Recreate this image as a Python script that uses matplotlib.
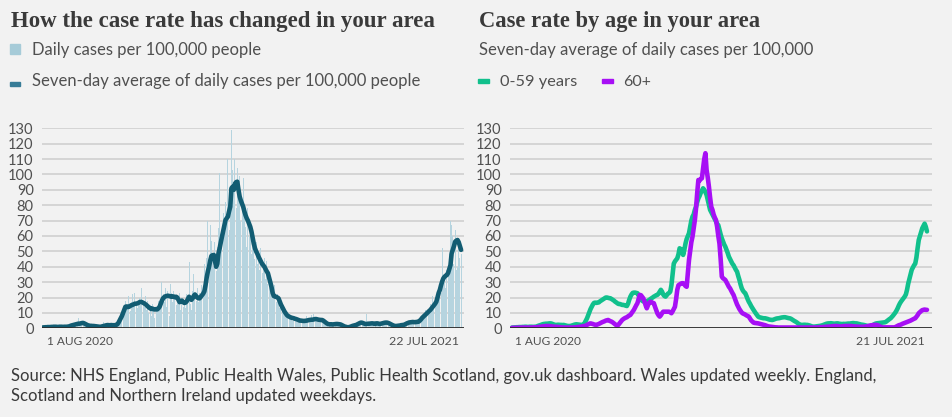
import matplotlib
matplotlib.use("Agg")
import matplotlib.pyplot as plt
import numpy as np

# ---------------- data ----------------
left_start_label = "1 AUG 2020"
left_end_label = "22 JUL 2021"
right_start_label = "1 AUG 2020"
right_end_label = "21 JUL 2021"
y_ticks = [0, 10, 20, 30, 40, 50, 60, 70, 80, 90, 100, 110, 120, 130]

# daily cases per 100,000 (1 Aug 2020 .. 22 Jul 2021)
daily_cases = [
    0.5,0.8,0.3,0.9,1.2,0.6,0.7,1.4,0.5,1.0,
    1.3,0.8,0.6,1.1,1.4,0.7,0.9,1.2,0.8,1.1,
    0.9,1.3,1.8,1.2,2.2,3.0,1.8,2.5,3.4,2.0,
    6.5,2.8,3.6,4.5,2.2,3.0,2.6,1.8,2.4,1.5,
    1.8,1.2,2.0,1.4,1.0,1.6,0.8,1.3,0.9,1.2,
    1.5,4.0,1.2,2.5,2.0,1.6,2.8,1.8,2.4,1.5,
    2.2,1.8,2.6,2.0,4.5,5.5,7.0,9.0,11.0,15.0,
    18.0,12.0,15.0,21.0,11.0,17.0,22.0,14.0,23.0,16.0,
    13.0,17.0,20.0,15.0,26.0,16.0,14.0,21.0,12.0,18.0,
    10.0,15.0,8.0,16.0,12.0,6.5,14.0,11.0,18.0,15.0,
    19.0,30.0,22.0,17.0,26.0,14.0,24.0,8.0,29.0,23.0,
    17.0,24.0,22.0,15.0,21.0,19.0,23.0,12.0,20.0,14.0,
    16.0,13.0,22.0,19.0,43.0,16.0,12.0,24.0,35.0,20.0,
    18.0,26.0,17.0,23.0,20.0,28.0,24.0,42.0,31.0,46.0,
    70.0,36.0,67.0,57.0,48.0,40.0,56.0,37.0,53.0,65.0,
    101.0,55.0,62.0,75.0,68.0,82.0,71.0,110.0,64.0,86.0,
    129.0,103.0,95.0,110.0,78.0,104.0,88.0,99.0,70.0,80.0,
    98.0,73.0,66.0,53.0,78.0,60.0,66.0,48.0,62.0,52.0,
    45.0,56.0,42.0,48.0,38.0,52.0,36.0,43.0,46.0,32.0,
    44.0,29.0,36.0,27.0,22.0,25.0,19.0,28.0,17.0,22.0,
    21.0,13.0,17.0,14.0,10.0,12.0,8.0,10.0,7.0,9.0,
    6.0,8.0,5.0,7.5,6.0,5.5,7.0,4.5,5.0,6.0,
    4.0,5.5,4.2,6.0,8.0,5.0,4.0,6.5,8.5,5.0,
    9.5,5.5,4.8,7.0,6.2,5.0,4.5,6.0,3.8,5.2,
    3.0,2.8,3.5,2.0,2.4,3.0,2.2,2.8,3.2,2.5,
    2.2,3.5,2.0,2.8,1.8,1.2,1.5,0.8,1.0,0.5,
    0.9,1.5,1.0,2.0,1.6,2.5,2.0,3.0,2.8,4.0,
    4.2,3.0,3.8,2.5,3.4,9.5,2.6,3.5,2.8,3.6,
    3.0,3.4,2.5,3.8,2.9,3.5,2.6,3.2,3.8,3.0,
    4.2,3.5,4.0,3.2,2.8,3.0,2.0,2.2,1.5,1.8,
    1.2,2.0,1.5,2.2,1.8,2.6,2.0,2.8,3.5,3.0,
    4.0,3.2,4.5,3.6,5.0,3.8,4.2,4.6,3.9,5.5,
    5.5,8.0,6.0,9.0,8.0,12.0,9.0,11.0,10.0,16.0,
    14.0,21.0,13.0,18.0,15.0,20.0,26.0,28.0,23.0,52.0,
    34.0,30.0,26.0,38.0,40.0,48.0,70.0,67.0,60.0,42.0,
    64.0,38.0,40.0,55.0,46.0,48.0,
]

# seven-day average of daily cases per 100,000
seven_day_avg = [
    0.6,0.6,0.7,0.7,0.8,0.8,0.8,0.9,0.9,1.0,
    1.0,1.0,0.9,0.9,1.0,1.0,1.0,0.9,1.0,1.0,
    1.0,1.1,1.2,1.5,1.8,2.0,2.2,2.4,2.6,2.8,
    3.0,3.0,3.2,3.4,3.5,3.2,2.8,2.4,2.0,1.8,
    1.6,1.6,1.5,1.5,1.4,1.3,1.2,1.1,1.0,1.0,
    1.2,1.4,1.6,1.8,2.0,2.1,2.0,2.0,2.1,2.0,
    2.0,2.0,2.2,2.5,3.5,5.0,6.5,8.0,10.0,12.0,
    14.0,14.2,13.8,14.0,14.5,15.0,15.2,15.6,16.0,16.0,
    16.2,16.5,17.0,17.2,17.0,16.6,16.2,15.6,15.0,14.2,
    13.5,13.0,12.5,12.8,12.4,12.2,12.5,12.3,13.0,14.0,
    16.0,18.0,19.5,20.3,20.8,21.0,21.2,21.0,20.8,20.5,
    20.8,20.5,20.2,20.5,20.0,18.5,17.0,17.5,18.0,17.0,
    16.5,16.7,17.5,19.0,20.5,19.5,18.5,19.5,21.0,22.0,
    21.0,20.0,19.5,19.5,20.5,21.5,22.5,24.0,28.0,33.0,
    37.0,40.0,44.0,47.0,47.5,47.7,44.0,40.0,42.0,48.7,
    52.0,56.0,59.6,63.0,67.0,70.4,71.5,72.6,76.0,79.0,
    91.0,92.0,90.0,94.0,95.0,95.3,90.0,85.6,83.0,81.0,
    79.0,76.0,73.5,71.5,70.0,68.0,66.0,63.0,59.0,55.0,
    52.0,50.0,48.5,46.6,45.0,43.5,42.0,41.0,40.0,38.5,
    37.0,35.8,33.0,30.0,27.0,23.0,21.0,20.6,20.5,20.0,
    19.5,17.5,15.5,14.0,12.5,11.0,9.8,8.7,8.0,7.6,
    7.2,6.9,6.7,6.5,6.2,6.0,5.7,5.4,5.0,5.0,
    4.9,4.8,4.8,4.9,5.0,5.2,5.4,5.5,5.6,5.6,
    5.8,6.0,6.0,5.8,5.6,5.5,5.4,5.4,5.0,4.4,
    3.8,3.2,2.8,2.6,2.6,2.6,2.5,2.6,2.7,2.8,
    2.8,2.7,2.6,2.4,2.0,1.6,1.2,1.0,0.8,0.6,
    0.8,1.0,1.3,1.6,1.8,2.0,2.2,2.6,3.0,3.4,
    3.7,3.6,3.3,3.0,2.8,2.8,3.0,3.0,3.1,3.2,
    3.2,3.0,2.8,3.2,3.2,3.0,2.8,3.0,3.2,3.4,
    3.6,3.7,3.7,3.5,3.2,2.8,2.4,2.0,1.7,1.5,
    1.5,1.6,1.7,1.8,2.0,2.1,2.2,2.4,2.8,3.2,
    3.5,3.8,3.9,4.0,4.1,4.0,4.0,4.1,4.2,4.3,
    5.0,5.8,6.8,7.6,8.3,9.0,9.8,10.6,11.3,12.0,
    13.0,14.0,15.0,16.0,17.3,20.0,23.0,25.0,28.0,30.5,
    32.5,33.5,34.2,34.7,36.0,38.5,41.0,48.7,51.0,53.5,
    56.3,57.0,57.4,56.0,53.5,51.0,
]

# seven-day average by age (1 Aug 2020 .. 21 Jul 2021)
age_0_59 = [
    0.5,0.5,0.6,0.6,0.7,0.7,0.8,0.8,0.8,0.9,
    0.9,1.0,1.0,0.9,0.9,1.0,1.0,1.0,0.9,1.0,
    1.0,1.2,1.5,1.8,2.0,2.3,2.6,2.8,2.9,3.0,
    3.0,3.1,3.2,3.2,3.0,2.7,2.4,2.2,2.2,2.3,
    2.3,2.2,2.2,2.1,2.2,2.0,1.8,1.6,1.5,1.5,
    1.5,1.8,2.0,2.3,2.5,2.6,2.5,2.4,2.3,2.2,
    2.2,2.5,3.5,5.0,6.5,8.5,10.5,12.5,14.0,15.5,
    16.5,16.7,16.5,16.7,16.8,17.5,18.0,18.5,19.0,19.5,
    20.0,20.0,19.8,19.6,19.5,19.0,18.5,18.0,17.3,16.8,
    16.2,15.8,15.8,15.5,15.2,15.2,15.0,14.7,14.5,16.0,
    18.5,20.6,22.0,23.0,23.2,23.2,23.0,22.8,21.5,19.5,
    18.5,18.0,17.5,17.3,17.3,17.5,18.0,18.4,19.0,19.5,
    20.0,20.6,21.0,21.5,21.7,22.5,23.8,25.0,23.8,22.0,
    21.0,20.6,21.5,22.5,23.0,23.8,28.0,35.0,42.0,43.5,
    44.5,45.5,48.0,52.0,51.5,51.0,47.7,51.0,55.0,58.0,
    60.0,61.8,66.0,70.0,72.6,74.0,77.0,79.0,82.0,84.5,
    86.0,88.0,89.5,91.0,90.0,88.5,86.7,83.5,80.0,77.0,
    75.5,74.0,72.6,71.0,69.5,68.0,67.0,64.0,61.0,58.5,
    56.5,54.5,53.0,51.0,49.0,46.6,45.0,43.5,42.0,41.0,
    39.5,38.0,36.8,34.0,31.5,28.5,26.0,24.5,23.5,22.8,
    21.0,19.0,17.3,16.0,14.5,13.2,12.0,10.8,9.7,8.6,
    7.6,7.2,7.0,6.8,6.6,6.5,6.5,6.3,6.1,5.8,
    5.6,5.5,5.4,5.6,5.9,6.2,6.4,6.5,6.6,6.8,
    7.0,7.1,7.2,7.2,7.0,6.8,6.6,6.5,6.2,5.7,
    5.2,4.7,4.3,3.8,3.2,2.7,2.2,2.2,2.2,2.3,
    2.3,2.2,2.2,2.0,1.8,1.5,1.2,1.1,1.1,1.2,
    1.3,1.4,1.5,1.6,1.8,2.0,2.3,2.6,2.9,3.1,
    3.2,3.2,3.3,3.2,3.1,3.0,3.1,3.2,3.2,3.0,
    2.9,2.8,2.8,2.9,2.8,2.9,3.0,3.1,3.0,3.2,
    3.3,3.4,3.3,3.2,3.2,3.0,2.8,2.6,2.4,2.3,
    2.2,2.0,1.8,1.6,1.5,1.5,1.5,1.8,2.2,2.6,
    3.0,3.2,3.3,3.4,3.5,3.6,3.7,3.8,3.9,4.2,
    4.8,5.4,6.0,6.5,7.3,8.2,9.2,10.2,11.5,13.0,
    14.8,16.3,17.5,18.5,19.5,20.6,22.0,25.0,29.0,32.0,
    35.0,38.0,39.5,41.0,42.0,46.0,52.0,57.4,60.0,62.5,
    65.0,66.5,68.0,66.0,63.0,
]

age_60_plus = [
    0.3,0.3,0.3,0.3,0.4,0.4,0.4,0.4,0.5,0.5,
    0.5,0.5,0.5,0.5,0.5,0.5,0.5,0.5,0.6,0.6,
    0.6,0.7,0.8,0.9,1.0,1.1,1.2,1.3,1.4,1.5,
    1.5,1.5,1.4,1.3,1.2,1.1,1.0,1.0,1.0,0.9,
    0.8,0.7,0.6,0.6,0.5,0.5,0.5,0.5,0.5,0.5,
    0.5,0.5,0.5,0.6,0.6,0.7,0.8,0.9,1.0,1.1,
    1.2,1.4,1.5,1.8,2.2,2.6,3.0,3.2,3.0,2.8,
    2.5,2.3,2.2,2.5,2.8,3.2,3.6,4.0,4.3,4.6,
    5.0,5.2,5.4,5.0,4.6,4.3,3.8,3.2,2.6,2.0,
    1.7,2.5,3.5,4.5,5.4,6.0,6.5,6.9,7.2,7.8,
    8.3,8.7,9.8,11.0,12.0,13.5,15.0,16.3,19.0,21.7,
    21.5,20.5,19.5,17.5,15.0,13.0,15.0,16.5,17.3,17.0,
    16.6,16.3,14.0,12.0,9.8,8.5,7.6,8.5,9.8,10.8,
    10.8,10.8,10.8,10.8,10.8,10.4,9.8,11.0,12.5,14.0,
    19.0,25.0,28.0,28.5,29.0,29.3,29.3,28.5,27.5,27.0,
    36.0,44.4,50.0,56.0,59.6,65.0,70.4,78.0,88.0,96.4,
    96.0,97.0,97.5,104.0,110.0,113.8,103.0,98.0,92.0,85.0,
    79.0,77.0,74.0,72.0,70.4,66.0,60.0,55.0,45.0,33.6,
    32.5,32.0,31.4,30.0,28.5,27.0,26.0,24.5,23.0,21.7,
    19.5,17.5,15.5,14.0,12.5,11.3,10.2,9.6,9.3,8.9,
    8.4,8.0,7.6,6.4,5.2,4.4,3.7,3.5,3.4,3.3,
    3.2,3.0,2.8,2.6,2.4,2.2,2.0,1.7,1.4,1.2,
    1.1,1.0,0.9,0.8,0.7,0.6,0.6,0.5,0.5,0.5,
    0.5,0.5,0.5,0.5,0.5,0.5,0.5,0.5,0.5,0.5,
    0.5,0.5,0.5,0.5,0.5,0.5,0.5,0.5,0.5,0.5,
    0.5,0.5,0.5,0.5,0.5,0.5,0.5,0.5,0.5,0.5,
    0.5,0.6,0.6,0.7,0.7,0.8,0.8,0.9,1.0,1.0,
    1.1,1.1,1.2,1.3,1.4,1.5,1.5,1.5,1.4,1.3,
    1.2,1.2,1.3,1.4,1.5,1.5,1.5,1.5,1.5,1.5,
    1.4,1.3,1.2,1.2,1.1,1.1,1.0,1.0,1.0,1.0,
    1.0,1.1,1.2,1.3,1.5,1.7,1.9,2.0,2.1,2.2,
    2.2,2.2,2.0,1.6,1.2,0.8,0.6,0.6,0.6,0.6,
    0.6,0.6,0.6,0.6,0.6,0.6,0.6,0.8,1.2,1.6,
    2.0,2.2,2.5,2.9,3.2,3.5,3.8,4.1,4.4,4.7,
    5.0,5.4,5.8,6.2,6.5,7.5,8.5,9.8,10.5,11.2,
    11.8,12.0,12.2,12.0,12.0,
]

# ---------------- styling ----------------
W, H = 953, 417
BG = "#f2f2f2"
GRID = "#d2d2d2"
TXT_DARK = "#3a3a3a"
TXT = "#505050"
BAR_C = "#b6d4df"
AVG_C = "#125c72"
AVG_LEG = "#377c97"
GREEN = "#11c08c"
PURPLE = "#a70ff5"

SANS = ["Lato", "DejaVu Sans"]
SERIF = ["Liberation Serif", "DejaVu Serif"]

fig = plt.figure(figsize=(W / 100, H / 100), dpi=100, facecolor=BG)
renderer = fig.canvas.get_renderer()


def px_axes(x0, x1, ytop, ybot):
    return fig.add_axes([x0 / W, 1 - ybot / H, (x1 - x0) / W, (ybot - ytop) / H])


def fit_text(x, y, s, width_px, size, **kw):
    t = fig.text(x / W, 1 - y / H, s, fontsize=size, **kw)
    bb = t.get_window_extent(renderer)
    if bb.width > 0:
        t.set_fontsize(size * width_px / bb.width)
    return t


def style_axes(ax, xlim):
    ax.set_facecolor(BG)
    ax.set_xlim(*xlim)
    ax.set_ylim(0, 130)
    ax.set_yticks(y_ticks)
    ax.set_yticklabels([str(v) for v in y_ticks], family=SANS, fontsize=10.5, color=TXT)
    ax.tick_params(axis="y", length=0, pad=6)
    ax.set_xticks([])
    for s in ax.spines.values():
        s.set_visible(False)
    for v in y_ticks[1:]:
        ax.axhline(v, color=GRID, lw=1.3, zorder=0)
    ax.axhline(0, color="#2b2b2b", lw=1.3, zorder=5)


# ---------------- left chart ----------------
axL = px_axes(42, 464, 128.3, 328.3)
nL = len(daily_cases)
xL = np.arange(nL)
style_axes(axL, (-0.85, nL - 1 + 2.5))
axL.bar(xL, daily_cases, width=0.85, color=BAR_C, zorder=1, linewidth=0)
axL.plot(xL, seven_day_avg, color=AVG_C, lw=3.3, solid_joinstyle="round",
         solid_capstyle="round", zorder=4)

# ---------------- right chart ----------------
axR = px_axes(510, 932, 128.3, 328.3)
nR = len(age_0_59)
xR = np.arange(nR)
style_axes(axR, (-1.7, nR - 1 + 4.3))
axR.plot(xR, age_0_59, color=GREEN, lw=3.3, solid_joinstyle="round",
         solid_capstyle="round", zorder=3)
axR.plot(xR, age_60_plus, color=PURPLE, lw=3.3, solid_joinstyle="round",
         solid_capstyle="round", zorder=4)

# ---------------- texts ----------------
fit_text(11, 27, "How the case rate has changed in your area", 424, 14.5,
         family=SERIF, weight="bold", color=TXT_DARK, va="baseline", ha="left")
fit_text(479, 27, "Case rate by age in your area", 281, 14.5,
         family=SERIF, weight="bold", color=TXT_DARK, va="baseline", ha="left")

# left legend
fig.patches.append(plt.Rectangle((10 / W, 1 - 54 / H), 10 / W, 10 / H,
                                 transform=fig.transFigure, color="#a6cbd8"))
fig.patches.append(plt.Rectangle((10 / W, 1 - 86 / H), 10 / W, 4 / H,
                                 transform=fig.transFigure, color=AVG_LEG))
fit_text(32, 55, "Daily cases per 100,000 people", 229, 11,
         family=SANS, color=TXT, va="baseline", ha="left")
fit_text(32, 86, "Seven-day average of daily cases per 100,000 people", 389, 11,
         family=SANS, color=TXT, va="baseline", ha="left")

# right subtitle + legend
fit_text(479, 55, "Seven-day average of daily cases per 100,000", 334, 11,
         family=SANS, color=TXT, va="baseline", ha="left")
fig.patches.append(plt.Rectangle((478 / W, 1 - 83 / H), 11 / W, 4 / H,
                                 transform=fig.transFigure, color=GREEN))
fig.patches.append(plt.Rectangle((602 / W, 1 - 83 / H), 11 / W, 4 / H,
                                 transform=fig.transFigure, color=PURPLE))
fit_text(500, 86, "0-59 years", 77, 11, family=SANS, color=TXT, va="baseline", ha="left")
fit_text(623, 86, "60+", 28, 11, family=SANS, color=TXT, va="baseline", ha="left")

# date labels
fit_text(47, 345, left_start_label, 66, 8.5, family=SANS, color=TXT, va="baseline", ha="left")
fit_text(459, 345, left_end_label, 70, 8.5, family=SANS, color=TXT, va="baseline", ha="right")
fit_text(515, 345, right_start_label, 66, 8.5, family=SANS, color=TXT, va="baseline", ha="left")
fit_text(925, 345, right_end_label, 68, 8.5, family=SANS, color=TXT, va="baseline", ha="right")

# source
fit_text(11, 381, "Source: NHS England, Public Health Wales, Public Health Scotland, gov.uk dashboard. "
         "Wales updated weekly. England,", 873, 10.5, family=SANS, color=TXT_DARK,
         va="baseline", ha="left")
fit_text(11, 401, "Scotland and Northern Ireland updated weekdays.", 369, 10.5,
         family=SANS, color=TXT_DARK, va="baseline", ha="left")

fig.savefig("out.png", dpi=100, facecolor=BG)
